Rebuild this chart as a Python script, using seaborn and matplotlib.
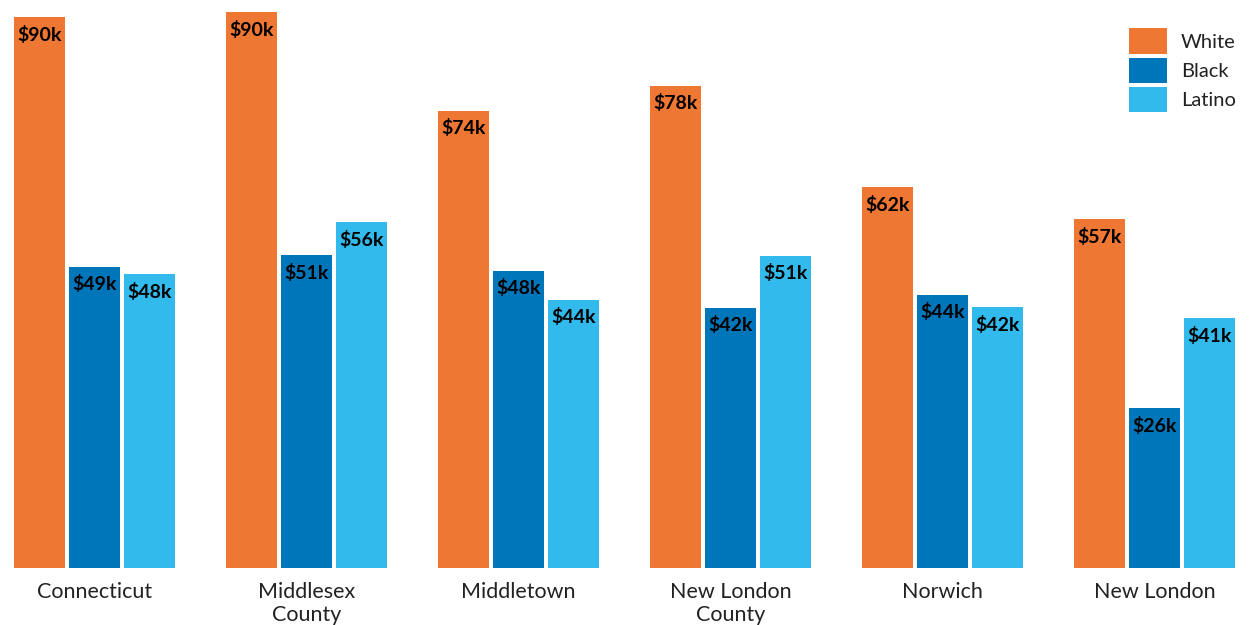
import matplotlib
matplotlib.use("Agg")
import matplotlib.pyplot as plt
import seaborn as sns
import pandas as pd

places = ["Connecticut", "Middlesex\nCounty", "Middletown", "New London\nCounty", "Norwich", "New London"]
groups = ["White", "Black", "Latino"]
white = [90.0, 90.8, 74.7, 78.8, 62.2, 57.0]
black = [49.2, 51.1, 48.6, 42.5, 44.6, 26.1]
latino = [48.0, 56.5, 43.8, 51.0, 42.6, 40.8]
white_labels = ["$90k", "$90k", "$74k", "$78k", "$62k", "$57k"]
black_labels = ["$49k", "$51k", "$48k", "$42k", "$44k", "$26k"]
latino_labels = ["$48k", "$56k", "$44k", "$51k", "$42k", "$41k"]
colors = ["#ED7733", "#0076BA", "#33BAEC"]

sns.set_theme(style="white")
plt.rcParams["font.family"] = ["Lato", "DejaVu Sans"]

rows = []
for g, vals in zip(groups, [white, black, latino]):
    for p, v in zip(places, vals):
        rows.append({"place": p, "group": g, "income": v})
df = pd.DataFrame(rows)

fig = plt.figure(figsize=(12.5, 6.25), dpi=100)
ax = fig.add_axes([0, 57 / 625, 1, 568 / 625])
sns.barplot(data=df, x="place", y="income", hue="group", order=places,
            hue_order=groups, palette=colors, saturation=1, width=0.775,
            gap=0.07, ax=ax, errorbar=None, linewidth=0)

for cont, labs in zip(ax.containers, [white_labels, black_labels, latino_labels]):
    ax.bar_label(cont, labels=labs, padding=-19, fontsize=14, fontweight="bold",
                 color="black")

ax.set_xlim(-94.5 / 212, (1250 - 94.5) / 212)
ax.set_ylim(0, 568 / 6.12)
ax.set_xlabel("")
ax.set_ylabel("")
ax.set_yticks([])
ax.tick_params(axis="x", length=0, pad=10, labelsize=15.5, labelcolor="#222222")
for s in ax.spines.values():
    s.set_visible(False)

leg = ax.legend(loc="upper right", bbox_to_anchor=(1.0, 0.975), frameon=False,
                fontsize=14.5, handlelength=1.9, handleheight=1.55,
                labelspacing=0.2, handletextpad=0.7, borderaxespad=0.3)
for t in leg.get_texts():
    t.set_color("#222222")

fig.savefig("out.png", dpi=100)
